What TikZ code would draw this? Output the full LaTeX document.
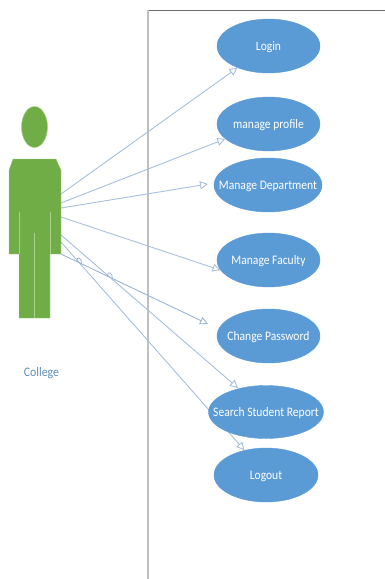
\documentclass[tikz,border=0pt]{standalone}
\usepackage{fontspec}
\setmainfont{Carlito}
\usetikzlibrary{arrows.meta,shapes.geometric,calc,backgrounds}
\definecolor{usecase}{HTML}{5B9BD5}
\definecolor{actorgreen}{HTML}{70AD47}
\definecolor{actoredge}{HTML}{A9D18E}
\definecolor{conn}{HTML}{A6BFDC}
\definecolor{connd}{HTML}{9AB6D6}
\definecolor{lbl}{HTML}{5F8DBE}
\newcommand{\uclabel}[1]{\makebox[0pt]{\smash{\raisebox{-4.8pt}{\scalebox{0.89}[1]{#1}}}}}
\tikzset{
  usecasebox/.style={ellipse,draw=usecase,fill=usecase,inner sep=0pt,text=white,font=\fontsize{13}{15}\selectfont},
  assoc/.style={draw=conn,line width=0.9pt,-{Triangle[open,length=8pt,width=8pt,fill=white]}},
  assocbump/.style={draw=connd,line width=0.8pt},
  limb/.style={draw=actoredge,line width=0.6pt},
}
\begin{document}
\begin{tikzpicture}[x=1pt,y=-1pt]
\useasboundingbox (0,0) rectangle (385,579);
% use cases
\node[usecasebox,minimum width=103pt,minimum height=54pt] (login) at (268.5,46) {\uclabel{Login}};
\node[usecasebox,minimum width=103pt,minimum height=54pt] (profile) at (268.5,124) {\uclabel{manage profile}};
\node[usecasebox,minimum width=108pt,minimum height=54pt] (dept) at (268,185) {\uclabel{Manage Department}};
\node[usecasebox,minimum width=103pt,minimum height=54pt] (faculty) at (268.5,260) {\uclabel{Manage Faculty}};
\node[usecasebox,minimum width=103pt,minimum height=54pt] (change) at (268.5,336) {\uclabel{Change Password}};
\node[usecasebox,minimum width=115pt,minimum height=53pt] (search) at (266,412) {\uclabel{Search Student Report}};
\node[usecasebox,minimum width=104pt,minimum height=54pt] (logout) at (266,475) {\uclabel{Logout}};
% actor
\node[ellipse,fill=actorgreen,draw=actoredge,line width=0.5pt,minimum width=26pt,minimum height=41pt,inner sep=0pt] (head) at (34.5,127) {};
\draw[fill=actorgreen,draw=actoredge,line width=0.4pt] (13,159) -- (56,159) -- (61,170) -- (61,254) -- (50,254) -- (50,318) -- (19,318) -- (19,254) -- (9,254) -- (9,170) -- cycle;
\draw[limb] (19,212) -- (19,254);
\draw[limb] (50,212) -- (50,254);
\draw[limb] (34.5,233) -- (34.5,318);
\node[text=lbl,font=\fontsize{13}{15}\selectfont] (college) at (41.5,373) {\scalebox{0.91}[1]{College}};
% connector ends
\coordinate (a1) at (61,194);
\coordinate (a2) at (61,203);
\coordinate (a3) at (61,208);
\coordinate (a4) at (61,217);
\coordinate (a5) at (61,235);
\coordinate (a6) at (61,242);
\coordinate (a7) at (61,254);
\coordinate (tipdept) at (208,184);
\coordinate (tipchange) at (208,324);
\coordinate (tipsearch) at (238,388);
\coordinate (x1) at (intersection of a7--tipchange and a6--logout.131);
\coordinate (x2) at (intersection of a7--tipchange and a5--tipsearch);
\begin{scope}[on background layer]
  \draw[draw=gray!85!black,line width=0.8pt] (148,10) -- (385,10);
  \draw[draw=white!75!black,line width=1.1pt] (148,579) -- (148,10);
  \draw[assoc] (a1) -- (login.215);
  \draw[assoc] (a2) -- (profile.199);
  \draw[assoc] (a3) -- (tipdept);
  \draw[assoc] (a4) -- (faculty.192);
  \draw[assoc] (a5) -- (tipsearch);
  \draw[assoc] (a6) -- (logout.131);
  \draw[assoc,draw=connd] (a7) -- (tipchange);
  \draw[assocbump] ($(x1)+(-2.5,-1.2)$) .. controls +(0,-6) and +(0,-6) .. ($(x1)+(2.5,1.2)$);
  \draw[assocbump] ($(x2)+(-2.5,-1.2)$) .. controls +(0,-6) and +(0,-6) .. ($(x2)+(2.5,1.2)$);
\end{scope}
\end{tikzpicture}
\end{document}
